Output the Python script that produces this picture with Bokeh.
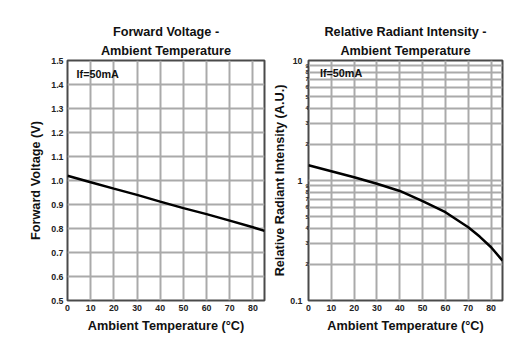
from bokeh.plotting import figure
from bokeh.layouts import row
from bokeh.models import (FixedTicker, PrintfTickFormatter, CustomJSTickFormatter,
                          Label, Range1d, Title, LogAxis)
from bokeh.embed import file_html
from bokeh.resources import INLINE

# ---- data ----
temp = [0, 10, 20, 30, 40, 50, 60, 70, 80, 85]
vf = [1.02, 0.993, 0.966, 0.94, 0.912, 0.885, 0.86, 0.833, 0.805, 0.79]

temp_i = [0, 10, 20, 30, 40, 50, 60, 70, 75, 80, 85]
rel_int = [1.34, 1.195, 1.065, 0.939, 0.818, 0.672, 0.544, 0.408, 0.341, 0.278, 0.215]

x_ticks = [0, 10, 20, 30, 40, 50, 60, 70, 80]
vf_ticks = [0.5, 0.6, 0.7, 0.8, 0.9, 1.0, 1.1, 1.2, 1.3, 1.4, 1.5]
log_major = [0.1, 1, 10]
log_minor = [0.2, 0.3, 0.4, 0.5, 0.6, 0.7, 0.8, 0.9, 2, 3, 4, 5, 6, 7, 8, 9]

FONT = "Liberation Sans"
GRID = "#aaaaaa"
BORDER = "#4a4a4a"
TXT = "#111111"


def style_axis(ax, size="8.8px"):
    ax.axis_line_color = None
    ax.major_tick_out = 0
    ax.major_tick_in = 0
    ax.minor_tick_out = 0
    ax.minor_tick_in = 0
    ax.major_label_text_font = FONT
    ax.major_label_text_font_style = "bold"
    ax.major_label_text_font_size = size
    ax.major_label_text_color = "#222222"
    ax.axis_label_text_font = FONT
    ax.axis_label_text_font_style = "bold"
    ax.axis_label_text_font_size = "12.7px"
    ax.axis_label_text_color = TXT


def style(p, line1, line2, title_offset=0):
    p.title.text = line1
    sub = Title(text=line2)
    for t in (p.title, sub):
        t.text_font = FONT
        t.text_font_size = "12.7px"
        t.text_font_style = "bold"
        t.align = "center"
        t.offset = title_offset
        t.text_color = TXT
    p.title.standoff = 0
    sub.standoff = 6
    p.add_layout(sub, "above")
    p.outline_line_color = BORDER
    p.outline_line_width = 2
    p.outline_line_alpha = 1
    p.background_fill_color = "white"
    p.border_fill_color = "white"
    style_axis(p.xaxis[0])
    style_axis(p.yaxis[0])
    p.xaxis[0].major_label_standoff = 4
    p.xaxis[0].axis_label_standoff = 5
    p.xaxis[0].axis_label = "Ambient Temperature (°C)"
    p.xaxis[0].ticker = FixedTicker(ticks=x_ticks)
    p.grid.grid_line_color = GRID
    p.grid.grid_line_width = 2
    p.grid.grid_line_alpha = 1


# ---- left chart ----
p1 = figure(width=270, height=345, output_backend="svg", toolbar_location=None,
            x_range=Range1d(0, 85), y_range=Range1d(0.5, 1.5),
            min_border_left=67, min_border_right=6, min_border_top=59, min_border_bottom=45)
style(p1, "Forward Voltage -", "Ambient Temperature", title_offset=-8.5)
p1.yaxis[0].ticker = FixedTicker(ticks=vf_ticks)
p1.yaxis[0].formatter = PrintfTickFormatter(format="%.1f")
p1.yaxis[0].axis_label = "Forward Voltage (V)"
p1.yaxis[0].major_label_standoff = 4
p1.yaxis[0].axis_label_standoff = 5
p1.line(temp, vf, line_color="black", line_width=2.5)
p1.add_layout(Label(x=3.9, y=1.443, text="If=50mA", text_font=FONT, text_font_style="bold",
                    text_font_size="10.8px", text_baseline="middle", text_color=TXT))

# ---- right chart ----
p2 = figure(width=248, height=345, output_backend="svg", toolbar_location=None,
            x_range=Range1d(0, 85), y_range=Range1d(0.1, 10), y_axis_type="log",
            min_border_left=32, min_border_right=16, min_border_top=60, min_border_bottom=45)
style(p2, "Relative Radiant Intensity -", "Ambient Temperature")
# inner axis: small minor-tick labels 2..9
ax_minor = p2.yaxis[0]
ax_minor.ticker = FixedTicker(ticks=log_minor, minor_ticks=log_minor)
ax_minor.formatter = CustomJSTickFormatter(
    code="return tick < 1 ? String(Math.round(tick * 10)) : String(Math.round(tick));")
style_axis(ax_minor, size="5.5px")
ax_minor.major_label_standoff = 0
ax_minor.axis_label_standoff = 0
# outer axis: decade labels + title
ax_major = LogAxis(ticker=FixedTicker(ticks=log_major),
                   formatter=CustomJSTickFormatter(
                       code="return tick >= 1 ? String(Math.round(tick)) : tick.toFixed(1);"),
                   axis_label="Relative Radiant Intensity (A.U.)")
style_axis(ax_major)
ax_major.major_label_standoff = 0
ax_major.axis_label_standoff = 0
p2.add_layout(ax_major, "left")
p2.ygrid.ticker = FixedTicker(ticks=log_major, minor_ticks=log_minor)
p2.ygrid.minor_grid_line_color = GRID
p2.ygrid.minor_grid_line_width = 2
p2.ygrid.minor_grid_line_alpha = 1
p2.line(temp_i, rel_int, line_color="black", line_width=2.5)
p2.add_layout(Label(x=5.0, y=7.84, text="If=50mA", text_font=FONT, text_font_style="bold",
                    text_font_size="10.8px", text_baseline="middle", text_color=TXT))

layout = row(p1, p2)
open("out.html", "w").write(file_html(layout, INLINE))
